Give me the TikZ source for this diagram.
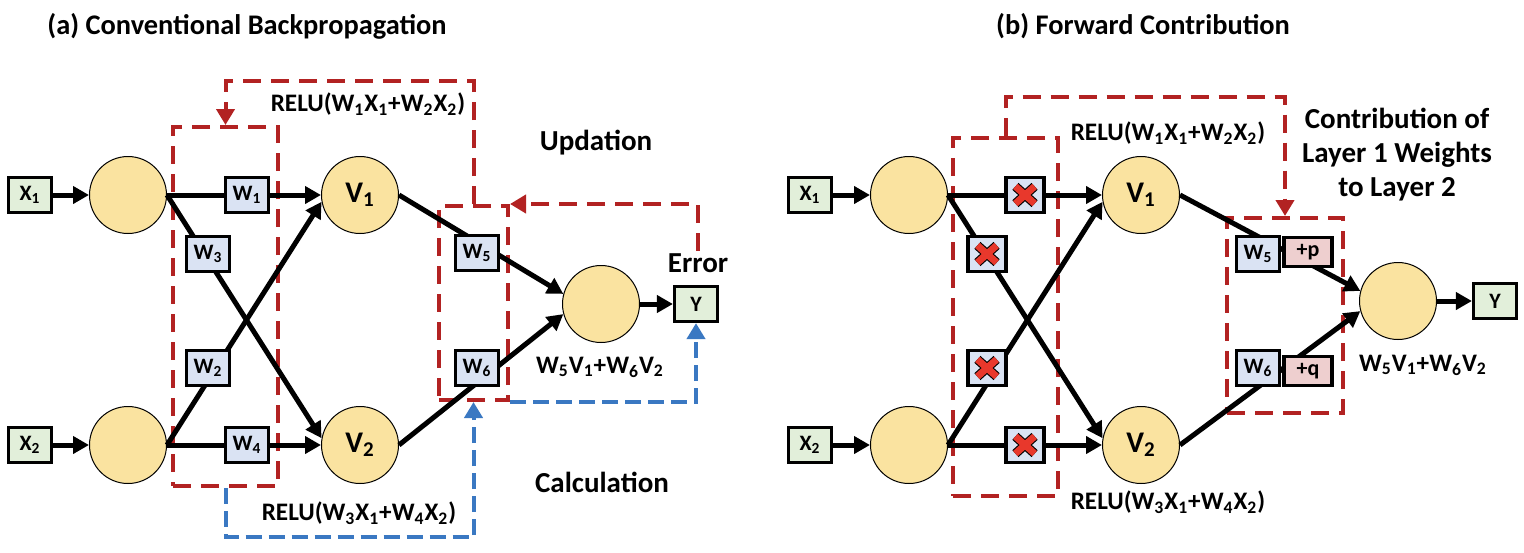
\documentclass[tikz,border=0pt]{standalone}
\usepackage{fontspec}
\setmainfont{Carlito}
\usetikzlibrary{arrows.meta}
\definecolor{nodefill}{HTML}{FAE3A0}
\definecolor{wfill}{HTML}{DAE3F3}
\definecolor{xfill}{HTML}{E2EFDA}
\definecolor{pfill}{HTML}{EECFCF}
\definecolor{dred}{HTML}{B22222}
\definecolor{dblue}{HTML}{3A78C2}
\definecolor{xred}{HTML}{E8382C}
\tikzset{
  neuron/.style={circle, draw=black, line width=0.5pt, fill=nodefill, minimum size=38.5pt, inner sep=0pt, font=\fontsize{15}{17}\selectfont\bfseries},
  inbox/.style={draw=black, line width=1.6pt, fill=xfill, minimum width=21.5pt, minimum height=17.5pt, inner sep=0pt, font=\fontsize{11}{13}\selectfont\bfseries},
  wbox/.style={inbox, fill=wfill},
  pbox/.style={inbox, fill=pfill, minimum width=24pt, minimum height=14.5pt},
  xbox/.style={wbox, minimum width=19pt, path picture={
      \foreach \cc/\ww in {black/4.6pt, xred/3.5pt}{
        \draw[\cc, line width=\ww]
          ([shift={(-4.8pt,-4.3pt)}]path picture bounding box.center) -- ([shift={(4.8pt,4.3pt)}]path picture bounding box.center)
          ([shift={(-4.8pt,4.3pt)}]path picture bounding box.center) -- ([shift={(4.8pt,-4.3pt)}]path picture bounding box.center);}
    }},
  conn/.style={line width=2.5pt, -{Triangle[length=8pt,width=8.5pt]}},
  redbox/.style={draw=dred, line width=2pt, dash pattern=on 9pt off 5pt, inner sep=0pt},
  redarr/.style={draw=dred, line width=2pt, dash pattern=on 9pt off 5pt, -{Triangle[length=8pt,width=9pt]}},
  bluearr/.style={draw=dblue, line width=2pt, dash pattern=on 8pt off 3.5pt, -{Triangle[length=8pt,width=9pt]}},
  lbl/.style={font=\fontsize{12.6}{15}\selectfont\bfseries, inner sep=1pt},
  big/.style={font=\fontsize{14.5}{17}\selectfont\bfseries, align=center, inner sep=1pt},
  ttl/.style={font=\fontsize{14.2}{17}\selectfont\bfseries, inner sep=1pt},
}
\newcommand\sbs[1]{\textsubscript{#1}}
\begin{document}
\begin{tikzpicture}[x=0.5pt,y=-0.5pt]
\useasboundingbox (0,0) rectangle (1524,552);
% titles
\node[ttl] (ta) at (247,26) {(a) Conventional Backpropagation};
\node[ttl] (tb) at (1143,26) {(b) Forward Contribution};

% ===== panel (a) =====
\node[redbox, minimum width=52.5pt, minimum height=179.5pt] (ga) at (225.5,306.5) {};
\node[redbox, minimum width=34.5pt, minimum height=97pt] (gb) at (473.5,303) {};

\node[neuron] (c1) at (128,195) {};
\node[neuron] (c2) at (128,445) {};
\node[neuron] (v1) at (360,195) {V\sbs{1}};
\node[neuron] (v2) at (360,445) {V\sbs{2}};
\node[neuron] (o) at (601,304) {};
\node[inbox] (x1) at (30,195) {X\sbs{1}};
\node[inbox] (x2) at (30,445) {X\sbs{2}};
\node[inbox] (y) at (696,304) {Y};

\draw[conn] (x1.east) -- (c1.west);
\draw[conn] (x2.east) -- (c2.west);
\draw[conn] (c1.east) -- (v1.west);
\draw[conn] (c1.east) -- (v2.170);
\draw[conn] (c2.east) -- (v1.190);
\draw[conn] (c2.east) -- (v2.west);
\draw[conn] (v1.east) -- (o.165);
\draw[conn] (v2.east) -- (o.195);
\draw[conn] (o.east) -- (y.west);

\node[wbox] (w1) at (247,195) {W\sbs{1}};
\node[wbox] (w3) at (208,254) {W\sbs{3}};
\node[wbox] (w2) at (208,368) {W\sbs{2}};
\node[wbox] (w4) at (247,445) {W\sbs{4}};
\node[wbox] (w5) at (477,253) {W\sbs{5}};
\node[wbox] (w6) at (477,368) {W\sbs{6}};

\node[lbl] (ra1) at (368,104) {RELU(W\sbs{1}X\sbs{1}+W\sbs{2}X\sbs{2})};
\node[lbl] (ra2) at (359,513) {RELU(W\sbs{3}X\sbs{1}+W\sbs{4}X\sbs{2})};
\node[lbl] (sa) at (600,367) {W\sbs{5}V\sbs{1}+W\sbs{6}V\sbs{2}};
\node[big] (upd) at (596,143) {Updation};
\node[big] (calc) at (602,482) {Calculation};
\node[big] (err) at (698,263) {Error};

\draw[redarr] (gb.north) -- ++(0,-123) -| (ga.north);
\draw[redarr] (err.north) |- (gb.north east);
\draw[bluearr] (ga.south) -- ++(0,49) -| (gb.south);
\draw[bluearr] (gb.south east) -| (y.south);

% ===== panel (b) =====
\node[redbox, minimum width=52.5pt, minimum height=179pt] (gc) at (1005.5,317) {};
\node[redbox, minimum width=58pt, minimum height=97.5pt] (gd) at (1285,315.5) {};

\node[neuron] (d1) at (909,195) {};
\node[neuron] (d2) at (909,445) {};
\node[neuron] (u1) at (1141,195) {V\sbs{1}};
\node[neuron] (u2) at (1141,445) {V\sbs{2}};
\node[neuron] (ob) at (1398,301) {};
\node[inbox] (xb1) at (810,195) {X\sbs{1}};
\node[inbox] (xb2) at (810,445) {X\sbs{2}};
\node[inbox] (yb) at (1495,301) {Y};

\draw[conn] (xb1.east) -- (d1.west);
\draw[conn] (xb2.east) -- (d2.west);
\draw[conn] (d1.east) -- (u1.west);
\draw[conn] (d1.east) -- (u2.170);
\draw[conn] (d2.east) -- (u1.190);
\draw[conn] (d2.east) -- (u2.west);
\draw[conn] (u1.east) -- (ob.165);
\draw[conn] (u2.east) -- (ob.195);
\draw[conn] (ob.east) -- (yb.west);

\node[xbox] (k1) at (1025,195) {};
\node[xbox] (k3) at (987,254) {};
\node[xbox] (k2) at (987,368) {};
\node[xbox] (k4) at (1025,445) {};
\node[wbox] (wb5) at (1258,254) {W\sbs{5}};
\node[pbox] (pp) at (1308,252) {+p};
\node[wbox] (wb6) at (1258,368) {W\sbs{6}};
\node[pbox] (pq) at (1308,371) {+q};

\node[lbl] (rb1) at (1168,133) {RELU(W\sbs{1}X\sbs{1}+W\sbs{2}X\sbs{2})};
\node[lbl] (rb2) at (1168,502) {RELU(W\sbs{3}X\sbs{1}+W\sbs{4}X\sbs{2})};
\node[lbl] (sb) at (1423,365) {W\sbs{5}V\sbs{1}+W\sbs{6}V\sbs{2}};
\node[big] (contr) at (1397,155) {Contribution of\\Layer 1 Weights\\to Layer 2};

\draw[redarr] (gc.north) -- ++(0,-39) -| (gd.north);
\end{tikzpicture}
\end{document}
